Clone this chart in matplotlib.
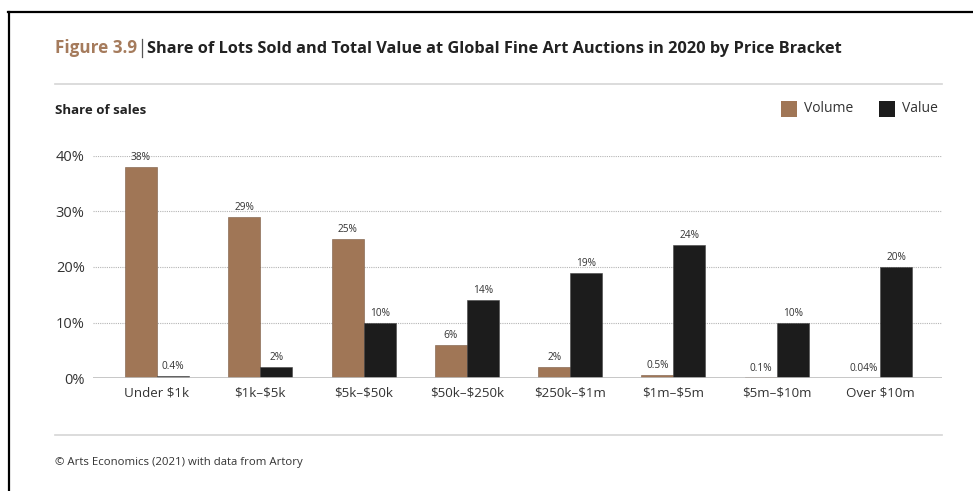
import matplotlib
matplotlib.use("Agg")
import matplotlib.pyplot as plt
from matplotlib.lines import Line2D
from matplotlib.patches import Rectangle
import numpy as np

brackets = ["Under \\$1k", "\\$1k–\\$5k", "\\$5k–\\$50k", "\\$50k–\\$250k",
            "\\$250k–\\$1m", "\\$1m–\\$5m", "\\$5m–\\$10m", "Over \\$10m"]
volume = [38, 29, 25, 6, 2, 0.5, 0.1, 0.04]
value = [0.4, 2, 10, 14, 19, 24, 10, 20]
volume_labels = ["38%", "29%", "25%", "6%", "2%", "0.5%", "0.1%", "0.04%"]
value_labels = ["0.4%", "2%", "10%", "14%", "19%", "24%", "10%", "20%"]
yticks = [0, 10, 20, 30, 40]

BROWN = "#A07656"
BLACK = "#1c1c1c"
TEXT = "#333333"
FONT = ["Open Sans", "DejaVu Sans"]

plt.rcParams["font.family"] = FONT

W, H = 973, 491
fig = plt.figure(figsize=(W / 100, H / 100), dpi=100)

def fx(px):
    return px / W

def fy(py):
    return 1 - py / H

ax = fig.add_axes([fx(93), fy(378), fx(942) - fx(93), fy(156) - fy(378)])

x = np.arange(len(brackets))
bw = 0.31
ax.bar(x - bw / 2, volume, bw, color=BROWN, edgecolor="#7a5a42", linewidth=0.4, zorder=3)
ax.bar(x + bw / 2, value, bw, color=BLACK, edgecolor="#444444", linewidth=0.4, zorder=3)

for xi, v, lab in zip(x - bw / 2, volume, volume_labels):
    ax.text(xi, v + 0.7, lab, ha="center", va="bottom", fontsize=7.3, color=TEXT, clip_on=False)
for xi, v, lab in zip(x + bw / 2, value, value_labels):
    ax.text(xi, v + 0.7, lab, ha="center", va="bottom", fontsize=7.3, color=TEXT, clip_on=False)

ax.set_xlim(-0.62, 7.6)
ax.set_ylim(0, 40)
ax.set_yticks(yticks)
ax.set_yticklabels([f"{t}%" for t in yticks], fontsize=10.5, color=TEXT)
ax.set_xticks(x)
ax.set_xticklabels(brackets, fontsize=9.6, color=TEXT)
ax.tick_params(axis="both", length=0)
ax.tick_params(axis="y", pad=6)
ax.tick_params(axis="x", pad=6)

for t in yticks[1:]:
    ax.axhline(t, color="#b5b5b5", linewidth=0.8, linestyle=(0, (1, 1)), zorder=1)
ax.axhline(0, color="#bdbdbd", linewidth=1.2, zorder=4)
for s in ax.spines.values():
    s.set_visible(False)

# Title
t1 = fig.text(fx(55), fy(53), "Figure 3.9", fontsize=12.3, fontweight="bold",
              color="#A57B5C", ha="left", va="baseline")
fig.canvas.draw()
r = fig.canvas.get_renderer()
bb = t1.get_window_extent(r)
sep_x = bb.x1 + 5
fig.add_artist(Line2D([sep_x / W, sep_x / W], [fy(57), fy(39)], color="#555555", linewidth=0.9))
fig.text((sep_x + 5) / W, fy(53),
         "Share of Lots Sold and Total Value at Global Fine Art Auctions in 2020 by Price Bracket",
         fontsize=11.8, fontweight="bold", color="#222222", ha="left", va="baseline")

# Rules
fig.add_artist(Line2D([fx(55), fx(942)], [fy(84), fy(84)], color="#d5d5d5", linewidth=1.2))
fig.add_artist(Line2D([fx(55), fx(942)], [fy(435), fy(435)], color="#d5d5d5", linewidth=1.2))

# Frame
fig.add_artist(Line2D([fx(8.5), fx(8.5)], [fy(11.5), 0], color="black", linewidth=1.6))
fig.add_artist(Line2D([fx(7.7), 1], [fy(11.5), fy(11.5)], color="black", linewidth=1.6))

fig.text(fx(55), fy(110), "Share of sales", fontsize=9.5, fontweight="bold",
         color="#222222", ha="left", va="center")

# Legend
for sx, tx, col, lab in [(781, 804, BROWN, "Volume"), (879, 902, BLACK, "Value")]:
    fig.add_artist(Rectangle((fx(sx), fy(117)), fx(16), fy(101) - fy(117),
                             transform=fig.transFigure, facecolor=col, edgecolor="none"))
    fig.text(fx(tx), fy(109), lab, fontsize=10, color=TEXT, ha="left", va="center")

fig.text(fx(55), fy(462), "© Arts Economics (2021) with data from Artory",
         fontsize=8.2, color=TEXT, ha="left", va="center")

fig.savefig("out.png", dpi=100)
